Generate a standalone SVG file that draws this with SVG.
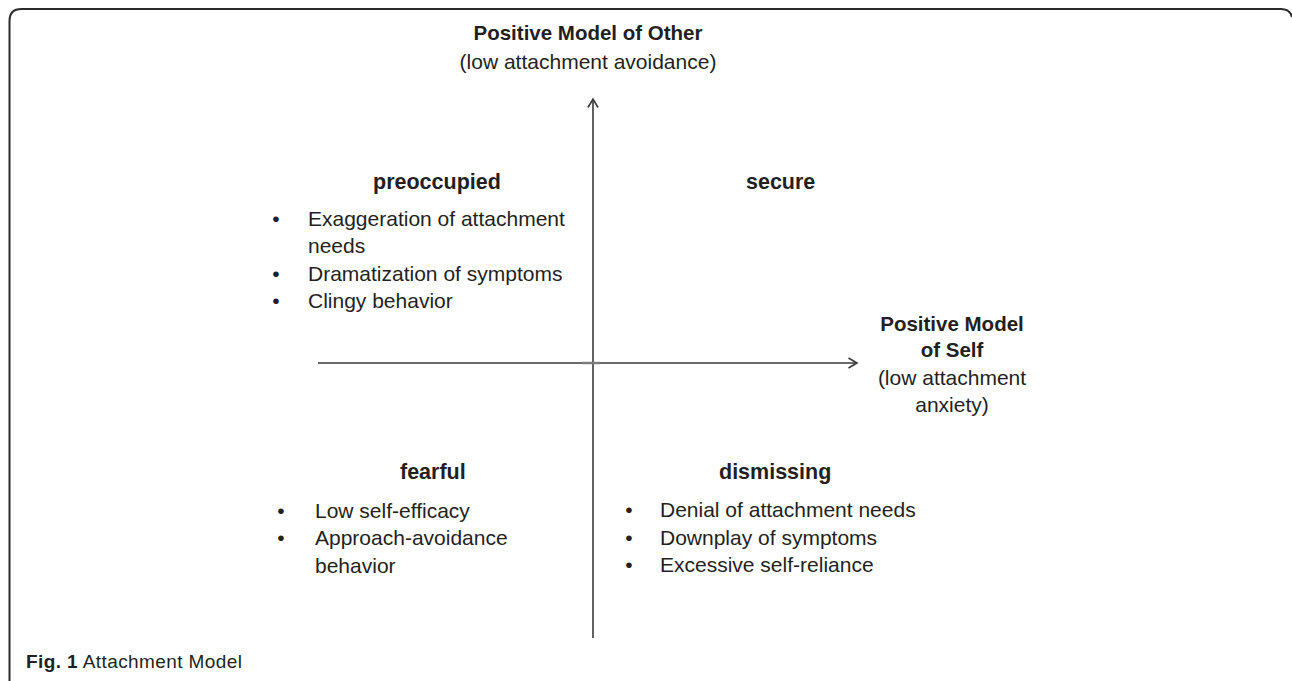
<svg xmlns="http://www.w3.org/2000/svg" width="1292" height="681" viewBox="0 0 1292 681">
  <style>
    text { font-family: "Liberation Sans", Arial, sans-serif; fill: #231f20; }
    .body { font-size: 21px; }
    .head { font-size: 21.5px; font-weight: bold; }
    .axis { font-size: 20.5px; font-weight: bold; }
    .mid { text-anchor: middle; }
    .bul { font-size: 21px; text-anchor: middle; }
    .ax { stroke: #3a3a3a; stroke-width: 1.6; fill: none; }
    .frame { stroke: #2a2a2a; stroke-width: 2; fill: none; }
  </style>
  <defs>
    <marker id="arr" markerUnits="userSpaceOnUse" markerWidth="14" markerHeight="14" refX="10" refY="6" orient="auto">
      <path d="M1.5,1 L10,6 L1.5,11" fill="none" stroke="#3a3a3a" stroke-width="1.6"/>
    </marker>
  </defs>
  <rect width="1292" height="681" fill="#ffffff"/>
  <path class="frame" d="M9.5,681 V21 Q9.5,9 21.5,9 H1281 Q1290,9 1292,17"/>

  <g id="connectors">
    <line class="ax" x1="593" y1="638" x2="593" y2="99" marker-end="url(#arr)"/>
    <line class="ax" x1="318" y1="363" x2="857" y2="363" marker-end="url(#arr)"/>
    <line x1="582" y1="363" x2="600" y2="363" stroke="#7a7a7a" stroke-width="2.4"/>
  </g>

  <g id="axis-other">
    <text class="axis mid" x="588" y="40">Positive Model of Other</text>
    <text class="body mid" x="588" y="69">(low attachment avoidance)</text>
  </g>

  <g id="axis-self">
    <text class="axis mid" x="952" y="331">Positive Model</text>
    <text class="axis mid" x="952" y="357">of Self</text>
    <text class="body mid" x="952" y="385">(low attachment</text>
    <text class="body mid" x="952" y="412">anxiety)</text>
  </g>

  <g id="preoccupied">
    <text class="head" x="373" y="189">preoccupied</text>
    <text class="bul" x="276" y="226">•</text>
    <text class="body" x="308" y="226">Exaggeration of attachment</text>
    <text class="body" x="308" y="253">needs</text>
    <text class="bul" x="276" y="281">•</text>
    <text class="body" x="308" y="281">Dramatization of symptoms</text>
    <text class="bul" x="276" y="308">•</text>
    <text class="body" x="308" y="308">Clingy behavior</text>
  </g>

  <g id="secure">
    <text class="head" x="746" y="189">secure</text>
  </g>

  <g id="fearful">
    <text class="head" x="400" y="479">fearful</text>
    <text class="bul" x="281" y="518">•</text>
    <text class="body" x="315" y="518">Low self-efficacy</text>
    <text class="bul" x="281" y="545">•</text>
    <text class="body" x="315" y="545">Approach-avoidance</text>
    <text class="body" x="315" y="573">behavior</text>
  </g>

  <g id="dismissing">
    <text class="head" x="719" y="479">dismissing</text>
    <text class="bul" x="629" y="517">•</text>
    <text class="body" x="660" y="517">Denial of attachment needs</text>
    <text class="bul" x="629" y="545">•</text>
    <text class="body" x="660" y="545">Downplay of symptoms</text>
    <text class="bul" x="629" y="572">•</text>
    <text class="body" x="660" y="572">Excessive self-reliance</text>
  </g>

  <g id="caption">
    <text x="26" y="668" font-size="19" textLength="216"><tspan font-weight="bold">Fig. 1</tspan> Attachment Model</text>
  </g>
</svg>
